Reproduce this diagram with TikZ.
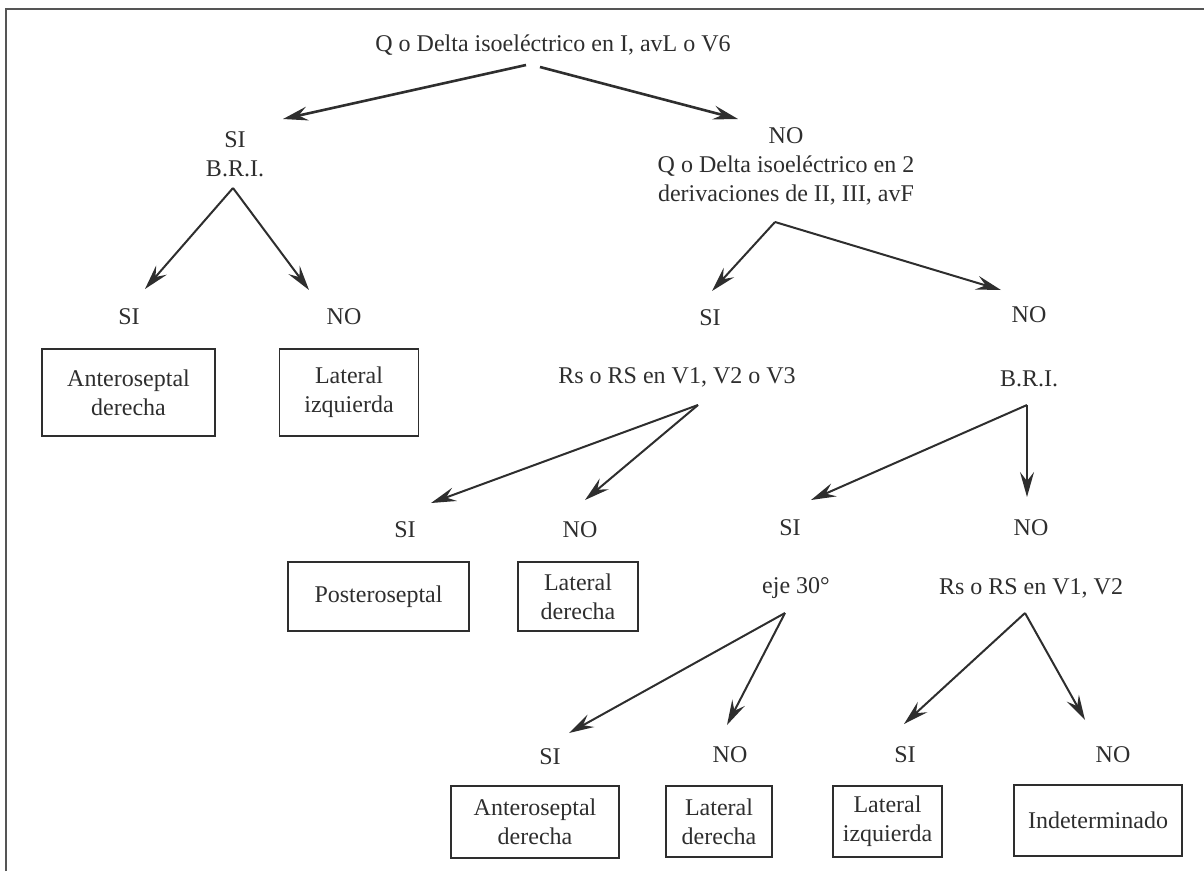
\documentclass[tikz,border=0pt]{standalone}
\usepackage{fontspec}
\setmainfont{Liberation Serif}
\usetikzlibrary{arrows.meta}
\definecolor{ink}{HTML}{2E2E2E}
\definecolor{framec}{HTML}{555555}
\begin{document}
\begin{tikzpicture}[x=1pt,y=-1pt,
  lbl/.style={text=ink, font=\fontsize{24}{29}\selectfont, inner sep=0pt, align=center},
  leaf/.style 2 args={lbl, draw=ink, line width=1.8pt, minimum width=#1, minimum height=#2},
  arr/.style={draw=ink, line width=2pt, -{Stealth[length=25pt,width=14pt,inset=9pt]}},
  arrb/.style={arr, line width=2.6pt},
]
\useasboundingbox (0,0) rectangle (1204,871);
\draw[framec, line width=1.8pt] (6,871) -- (6,9) -- (1204,9);

% texts
\node[lbl] (title) at (553,45) {Q o Delta isoeléctrico en I, avL o V6};
\node[lbl] (si1) at (235,154) {SI\\B.R.I.};
\node[lbl] (no1) at (786,166) {NO\\Q o Delta isoeléctrico en 2\\derivaciones de II, III, avF};
\node[lbl] (si2) at (129,317) {SI};
\node[lbl] (no2) at (344,317) {NO};
\node[lbl] (si3) at (710,318) {SI};
\node[lbl] (no3) at (1029,315) {NO};
\node[lbl] (rs1) at (677,377) {Rs o RS en V1, V2 o V3};
\node[lbl] (bri2) at (1029,379) {B.R.I.};
\node[lbl] (si4) at (405,530) {SI};
\node[lbl] (no4) at (580,530) {NO};
\node[lbl] (si5) at (790,528) {SI};
\node[lbl] (no5) at (1031,528) {NO};
\node[lbl] (eje) at (796,588) {eje 30°};
\node[lbl] (rs2) at (1031,588) {Rs o RS en V1, V2};
\node[lbl] (si6) at (550,757) {SI};
\node[lbl] (no6) at (730,755) {NO};
\node[lbl] (si7) at (905,755) {SI};
\node[lbl] (no7) at (1113,755) {NO};

% boxes
\node[leaf={173pt}{87pt}] (b1) at (128.5,392.5) {Anteroseptal\\derecha};
\node[leaf={139pt}{87pt}] (b2) at (349,392.5) {Lateral\\izquierda};
\node[leaf={181pt}{69pt}] (b3) at (378.5,596.5) {Posteroseptal};
\node[leaf={120pt}{69pt}] (b4) at (578,596.5) {Lateral\\derecha};
\node[leaf={168pt}{72pt}] (b5) at (535,822) {Anteroseptal\\derecha};
\node[leaf={106pt}{71pt}] (b6) at (719,821.5) {Lateral\\derecha};
\node[leaf={109pt}{71pt}] (b7) at (887.5,821.5) {Lateral\\izquierda};
\node[leaf={168pt}{71pt}] (b8) at (1098,820.5) {Indeterminado};

% connector end points
\coordinate (p1a) at (526,65);   \coordinate (p1b) at (540,67);
\coordinate (e1) at (283,119);   \coordinate (e2) at (738,119);
\coordinate (p2) at (233,188);
\coordinate (e3) at (145,289);   \coordinate (e4) at (309,290);
\coordinate (p3) at (775,222);
\coordinate (e5) at (712,291);   \coordinate (e6) at (1001,290);
\coordinate (p4) at (698,405);
\coordinate (e7) at (431,503);   \coordinate (e8) at (585,500);
\coordinate (p5) at (1027,405);
\coordinate (e9) at (811,500);   \coordinate (e10) at (1027,497);
\coordinate (p6) at (785,613);
\coordinate (e11) at (569,733);  \coordinate (e12) at (727,725);
\coordinate (p7) at (1025,613);
\coordinate (e13) at (904,724);  \coordinate (e14) at (1085,720);

\draw[arrb] (p1a) -- (e1);
\draw[arrb] (p1b) -- (e2);
\draw[arr] (p2) -- (e3);
\draw[arr] (p2) -- (e4);
\draw[arr] (p3) -- (e5);
\draw[arr] (p3) -- (e6);
\draw[arr] (p4) -- (e7);
\draw[arr] (p4) -- (e8);
\draw[arr] (p5) -- (e9);
\draw[arr] (p5) -- (e10);
\draw[arr] (p6) -- (e11);
\draw[arr] (p6) -- (e12);
\draw[arr] (p7) -- (e13);
\draw[arr] (p7) -- (e14);
\end{tikzpicture}
\end{document}
